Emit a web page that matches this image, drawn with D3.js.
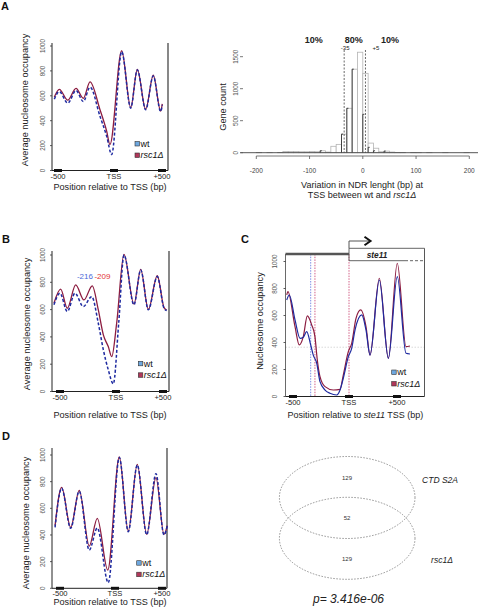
<!DOCTYPE html>
<html><head><meta charset="utf-8">
<script src="https://cdn.jsdelivr.net/npm/d3@7"></script>
<style>body{margin:0;background:#fff}svg{display:block}text{font-family:"Liberation Sans",Arial,sans-serif}</style>
</head><body><svg id="c" width="478" height="614"></svg>
<script>
// ---------- data ----------
const posTicks = [-500, 0, 500];
const posTickLabels = ["-500", "TSS", "+500"];
const occTicks = [0, 200, 400, 600, 800, 1000];
const seriesNames = ["wt", "rsc1Δ"];

// panel A profile [position bp, occupancy]
const aWt = [[-533,573],[-488,634],[-413,541],[-339,642],[-274,554],[-214,670],[-125,435],[-65,274],[-21,128],[80,955],[174,501],[243,808],[330,488],[409,760],[486,474],[503,528]];
const aRsc = [[-533,590],[-488,652],[-413,565],[-339,660],[-274,580],[-214,712],[-125,488],[-65,314],[-36,208],[80,962],[174,505],[243,812],[330,492],[409,765],[486,478],[503,535]];
// panel B
const bWt = [[-554,635],[-500,720],[-435,586],[-366,720],[-292,622],[-217,695],[-158,500],[-113,305],[-69,159],[-24,56],[29,503],[85,1000],[191,635],[263,891],[344,598],[439,842],[511,610],[539,593]];
const bRsc = [[-554,647],[-494,750],[-435,610],[-360,781],[-286,671],[-212,774],[-158,598],[-113,415],[-69,329],[-38,256],[7,500],[85,1005],[191,640],[263,895],[344,602],[439,848],[511,614],[539,597]];
const bPeakLabels = ["-216", "-209"];
const bPeakLabelPos = [-277, -121];
// panel C (ste11)
const cWt = [[-556,715],[-533,752],[-482,567],[-437,431],[-408,439],[-378,480],[-342,382],[-319,307],[-288,246],[-259,110],[-214,48],[-170,24],[-110,11],[-80,48],[-51,135],[-6,295],[28,357],[63,493],[132,604],[177,493],[219,307],[316,863],[410,283],[503,888],[594,320],[635,315]];
const cRsc = [[-556,752],[-545,777],[-482,517],[-444,382],[-408,444],[-372,597],[-333,530],[-304,443],[-283,270],[-259,147],[-214,73],[-140,48],[-80,53],[-51,159],[-6,332],[28,394],[73,579],[122,641],[177,517],[219,307],[316,876],[410,283],[503,987],[594,369],[635,374]];
const cMarkPos = [-342, -304, 0];
const cGuideOcc = 365;
const cGene = "ste11";
// panel D
const dWt = [[-545,457],[-485,750],[-403,450],[-325,728],[-234,287],[-161,452],[-61,42],[46,982],[141,425],[237,925],[337,402],[436,860],[521,400],[556,467]];
const dRsc = [[-545,470],[-485,757],[-403,457],[-325,735],[-234,317],[-161,525],[-66,137],[46,985],[141,430],[237,930],[337,405],[436,830],[521,405],[556,470]];

// histogram (NDR length change), 10 bp bins starting at binStart
const binStart = [-230,-220,-210,-200,-190,-180,-170,-160,-150,-140,-130,-120,-110,-100,-90,-80,-70,-60,-50,-40,-30,-20,-10,0,10,20,30,40,50,60,70,80,90,100,110,120,130,140,150,160,170,180,190,200,210];
const countsAll = [0,0,0,2,0,1,0,2,18,20,18,15,15,18,15,30,10,100,130,290,694,1305,1570,1240,150,70,15,25,10,3,2,0,2,1,0,1,0,0,1,0,0,0,1,0,0];
const darkBins = [-80,-40,-30,-20,0,10,20,40];
const darkCounts = [30,290,694,1305,600,84,30,25];
const histXTicks = [-200,-100,0,100,200];
const histYTicks = [0,500,1000,1500];
const ndrCuts = [-35, 5];
const ndrCutLabels = ["-35", "+5"];
const pctPos = [-92, -17, 51];
const pctLabels = ["10%", "80%", "10%"];

// Venn
const vennCounts = [129, 52, 129];
const vennSets = ["CTD S2A", "rsc1Δ"];
const pText = "p= 3.416e-06";

// ---------- drawing ----------
const svg = d3.select("#c");
const BLUE = "#1e2aa0", RED = "#8c1c40";
const WTFILL = "#6ea8e0", RSCFILL = "#b0375a";

function rotText(g, x, y, txt, size, fill) {
  return g.append("text").attr("transform", `translate(${x},${y}) rotate(-90)`)
    .attr("text-anchor", "middle").attr("dy", "0.35em")
    .attr("font-size", size).attr("fill", fill).text(txt);
}
function legend(g, lx, ly, size) {
  const fills = [WTFILL, RSCFILL];
  seriesNames.forEach((n, i) => {
    g.append("rect").attr("x", lx).attr("y", ly + i * 11.5).attr("width", 4.5).attr("height", 4.5)
      .attr("fill", fills[i]).attr("stroke", "#333").attr("stroke-width", 0.6);
    g.append("text").attr("x", lx + 5.5).attr("y", ly + i * 11.5 + 5.2).attr("font-size", size || 9)
      .attr("fill", "#111").attr("font-style", i ? "italic" : "normal").text(n);
  });
}

function occPanel(o) {
  const g = svg.append("g");
  const x = d3.scaleLinear().domain(posTicks).range(o.xr);
  const y = d3.scaleLinear().domain([0, 1000]).range([o.bottom, o.y1000]);
  g.append("line").attr("x1", o.left).attr("x2", o.left).attr("y1", o.top).attr("y2", o.bottom).attr("stroke", "#222").attr("stroke-width", 1);
  g.append("line").attr("x1", o.right).attr("x2", o.right).attr("y1", o.top).attr("y2", o.bottom).attr("stroke", "#555").attr("stroke-width", 1.4);
  g.append("line").attr("x1", o.left).attr("x2", o.right).attr("y1", o.bottom).attr("y2", o.bottom).attr("stroke", "#222").attr("stroke-width", 1);
  occTicks.forEach(t => {
    g.append("line").attr("x1", o.left - 2).attr("x2", o.left).attr("y1", y(t)).attr("y2", y(t)).attr("stroke", "#333").attr("stroke-width", 0.8);
    rotText(g, o.left - 9, y(t), t, 6.3, "#555");
  });
  posTicks.forEach((t, i) => {
    g.append("rect").attr("x", x(t) - 4).attr("y", o.bottom - 1.5).attr("width", 8).attr("height", 3).attr("fill", "#111");
    g.append("text").attr("x", x(t)).attr("y", o.xlabY).attr("text-anchor", "middle").attr("font-size", 7.6).attr("fill", "#222").text(posTickLabels[i]);
  });
  const line = d3.line().x(d => x(d[0])).y(d => y(d[1])).curve(d3.curveMonotoneX);
  g.append("path").datum(o.rsc).attr("d", line).attr("fill", "none").attr("stroke", RED).attr("stroke-width", 1.3);
  g.append("path").datum(o.wt).attr("d", line).attr("fill", "none").attr("stroke", BLUE).attr("stroke-width", 1.5).attr("stroke-dasharray", "3,2");
  legend(g, o.legend[0], o.legend[1]);
  rotText(g, o.ytX, o.ytY, "Average nucleosome occupancy", 9.2, "#222");
  g.append("text").attr("x", 110).attr("y", o.xtY).attr("text-anchor", "middle").attr("font-size", 9.1).attr("fill", "#222").text("Position relative to TSS (bp)");
  return {g, x, y};
}

// panel letters
[["A", 1, 10], ["B", 2, 243], ["C", 241, 243], ["D", 2, 440]].forEach(([t, lx, ly]) => {
  svg.append("text").attr("x", lx).attr("y", ly).attr("font-size", 11).attr("font-weight", "bold").attr("fill", "#111").text(t);
});

occPanel({xr: [58, 114, 162], left: 52, right: 168, top: 43, bottom: 170.5, y1000: 46, wt: aWt, rsc: aRsc, legend: [135, 141.5], ytX: 25, ytY: 100, xlabY: 178.5, xtY: 190});
const B = occPanel({xr: [60, 116, 163], left: 52, right: 169, top: 251, bottom: 391.5, y1000: 255, wt: bWt, rsc: bRsc, legend: [138.3, 361.3], ytX: 26.5, ytY: 324, xlabY: 399.5, xtY: 418});
const bCols = ["#4d6ad8", "#e23434"];
bPeakLabels.forEach((t, i) => {
  B.g.append("text").attr("x", B.x(bPeakLabelPos[i])).attr("y", 279).attr("text-anchor", "middle").attr("font-size", 8).attr("fill", bCols[i]).text(t);
});
occPanel({xr: [60, 115, 162], left: 52, right: 167, top: 448, bottom: 588.3, y1000: 455, wt: dWt, rsc: dRsc, legend: [136.7, 560.7], ytX: 26, ytY: 523, xlabY: 596, xtY: 605});

// ---------- panel C ----------
(function () {
  const g = svg.append("g");
  const L = 285.5, R = 424.5, T = 254, Bt = 396.5;
  const x = d3.scaleLinear().domain(posTicks).range([293, 349, 397]);
  const y = d3.scaleLinear().domain([0, 1000]).range([Bt, 261.5]);
  g.append("line").attr("x1", L).attr("x2", R).attr("y1", y(cGuideOcc)).attr("y2", y(cGuideOcc)).attr("stroke", "#cfcfcf").attr("stroke-width", 0.8).attr("stroke-dasharray", "1.5,1.5");
  const mk = ["#5b6fe0", "#c83a6a", "#c83a6a"];
  cMarkPos.forEach((p, i) => {
    g.append("line").attr("x1", x(p)).attr("x2", x(p)).attr("y1", T).attr("y2", Bt).attr("stroke", mk[i]).attr("stroke-width", 0.8).attr("stroke-dasharray", "1.5,1.2");
  });
  g.append("line").attr("x1", L).attr("x2", L).attr("y1", T).attr("y2", Bt).attr("stroke", "#444").attr("stroke-width", 0.8);
  g.append("line").attr("x1", R).attr("x2", R).attr("y1", 248.3).attr("y2", Bt).attr("stroke", "#444").attr("stroke-width", 0.9);
  g.append("line").attr("x1", L).attr("x2", R).attr("y1", Bt).attr("y2", Bt).attr("stroke", "#222").attr("stroke-width", 1);
  g.append("line").attr("x1", L).attr("x2", x(0)).attr("y1", T).attr("y2", T).attr("stroke", "#555").attr("stroke-width", 2.6);
  const gx = x(0);
  g.append("path").attr("d", `M${gx},260.7V248.3H${R}`).attr("fill", "none").attr("stroke", "#555").attr("stroke-width", 0.9);
  g.append("line").attr("x1", gx).attr("x2", 405).attr("y1", 260.7).attr("y2", 260.7).attr("stroke", "#555").attr("stroke-width", 0.9);
  g.append("line").attr("x1", 405).attr("x2", R).attr("y1", 260.7).attr("y2", 260.7).attr("stroke", "#555").attr("stroke-width", 0.9).attr("stroke-dasharray", "3,2");
  g.append("text").attr("x", 377).attr("y", 257.8).attr("text-anchor", "middle").attr("font-size", 8.3).attr("font-style", "italic").attr("font-weight", "bold").attr("fill", "#222").text(cGene);
  g.append("path").attr("d", `M${gx},248.3V241H369`).attr("fill", "none").attr("stroke", "#555").attr("stroke-width", 1);
  g.append("path").attr("d", "M364.5,236.8L370.5,241L364.5,245.2").attr("fill", "none").attr("stroke", "#111").attr("stroke-width", 2);
  occTicks.forEach(t => {
    g.append("line").attr("x1", L - 2).attr("x2", L).attr("y1", y(t)).attr("y2", y(t)).attr("stroke", "#333").attr("stroke-width", 0.8);
    rotText(g, 275, y(t), t, 6.3, "#555");
  });
  posTicks.forEach((t, i) => {
    g.append("rect").attr("x", x(t) - 4).attr("y", Bt - 1.5).attr("width", 8).attr("height", 3).attr("fill", "#111");
    g.append("text").attr("x", x(t)).attr("y", 405).attr("text-anchor", "middle").attr("font-size", 7.6).attr("fill", "#222").text(posTickLabels[i]);
  });
  const line = d3.line().x(d => x(d[0])).y(d => y(d[1])).curve(d3.curveMonotoneX);
  g.append("path").datum(cRsc).attr("d", line).attr("fill", "none").attr("stroke", RED).attr("stroke-width", 1.2);
  g.append("path").datum(cWt).attr("d", line).attr("fill", "none").attr("stroke", BLUE).attr("stroke-width", 1.2);
  legend(g, 391.7, 370);
  rotText(g, 260, 321, "Nucleosome occupancy", 9.2, "#222");
  const tt = g.append("text").attr("x", 355.5).attr("y", 418).attr("text-anchor", "middle").attr("font-size", 9).attr("fill", "#222");
  tt.append("tspan").text("Position relative to ");
  tt.append("tspan").attr("font-style", "italic").text(cGene);
  tt.append("tspan").text(" TSS (bp)");
})();

// ---------- histogram ----------
(function () {
  const g = svg.append("g");
  const x = d3.scaleLinear().domain([-200, 200]).range([256.3, 469.3]);
  const y = d3.scaleLinear().domain([0, 1500]).range([152.7, 56.7]);
  binStart.forEach((b, i) => {
    const c = countsAll[i];
    g.append("rect").attr("x", x(b)).attr("y", y(c)).attr("width", x(b + 10) - x(b)).attr("height", y(0) - y(c))
      .attr("fill", "#fff").attr("stroke", "#b4b4b4").attr("stroke-width", 0.8);
  });
  darkBins.forEach((b, i) => {
    const c = darkCounts[i];
    g.append("path").attr("d", `M${x(b)},${y(0)}V${y(c)}h1.6`).attr("fill", "none").attr("stroke", "#333").attr("stroke-width", 0.9);
  });
  g.append("line").attr("x1", x(-230)).attr("x2", x(220)).attr("y1", y(0)).attr("y2", y(0)).attr("stroke", "#444").attr("stroke-width", 0.9);
  ndrCuts.forEach(c => {
    g.append("line").attr("x1", x(c)).attr("x2", x(c)).attr("y1", 50).attr("y2", y(0)).attr("stroke", "#444").attr("stroke-width", 0.8).attr("stroke-dasharray", "2,1.5");
  });
  g.append("text").attr("x", x(ndrCuts[0]) + 1).attr("y", 50).attr("text-anchor", "middle").attr("font-size", 6).attr("fill", "#222").text(ndrCutLabels[0]);
  g.append("text").attr("x", x(ndrCuts[1]) + 10.5).attr("y", 50).attr("text-anchor", "middle").attr("font-size", 6).attr("fill", "#222").text(ndrCutLabels[1]);
  pctLabels.forEach((t, i) => {
    g.append("text").attr("x", x(pctPos[i])).attr("y", 43).attr("text-anchor", "middle").attr("font-size", 9).attr("font-weight", "bold").attr("fill", "#222").text(t);
  });
  g.append("line").attr("x1", x(-200)).attr("x2", x(200)).attr("y1", 156).attr("y2", 156).attr("stroke", "#555").attr("stroke-width", 0.8);
  histXTicks.forEach(t => {
    g.append("line").attr("x1", x(t)).attr("x2", x(t)).attr("y1", 156).attr("y2", 159).attr("stroke", "#555").attr("stroke-width", 0.8);
    g.append("text").attr("x", x(t)).attr("y", 172.5).attr("text-anchor", "middle").attr("font-size", 6.5).attr("fill", "#444").text(t);
  });
  histYTicks.forEach(t => {
    g.append("line").attr("x1", 240).attr("x2", 243).attr("y1", y(t)).attr("y2", y(t)).attr("stroke", "#555").attr("stroke-width", 0.8);
    rotText(g, 235.5, y(t), t, 6.3, "#555");
  });
  rotText(g, 223, 107, "Gene count", 9.2, "#222");
  g.append("text").attr("x", 362).attr("y", 188).attr("text-anchor", "middle").attr("font-size", 9).attr("fill", "#222").text("Variation in NDR lenght (bp) at");
  const t2 = g.append("text").attr("x", 362).attr("y", 197.5).attr("text-anchor", "middle").attr("font-size", 9).attr("fill", "#222");
  t2.append("tspan").text("TSS between wt and ");
  t2.append("tspan").attr("font-style", "italic").text("rsc1Δ");
})();

// ---------- Venn ----------
(function () {
  const g = svg.append("g");
  const ell = [[347.2, 497.5], [347.2, 538.3]];
  ell.forEach(([cx, cy]) => {
    g.append("ellipse").attr("cx", cx).attr("cy", cy).attr("rx", 67.8).attr("ry", 41).attr("fill", "none")
      .attr("stroke", "#555").attr("stroke-width", 0.6).attr("stroke-dasharray", "1.6,1.4");
  });
  const ny = [478.3, 518.3, 559.3];
  vennCounts.forEach((c, i) => {
    g.append("text").attr("x", 347).attr("y", ny[i] + 2).attr("text-anchor", "middle").attr("font-size", 6).attr("fill", "#333").text(c);
  });
  g.append("text").attr("x", 440).attr("y", 483).attr("text-anchor", "middle").attr("font-size", 8.5).attr("font-style", "italic").attr("fill", "#222").text(vennSets[0]);
  g.append("text").attr("x", 442).attr("y", 562.5).attr("text-anchor", "middle").attr("font-size", 8.5).attr("font-style", "italic").attr("fill", "#222").text(vennSets[1]);
  g.append("text").attr("x", 348.5).attr("y", 602.5).attr("text-anchor", "middle").attr("font-size", 12).attr("font-style", "italic").attr("fill", "#222").text(pText);
})();
</script></body></html>
